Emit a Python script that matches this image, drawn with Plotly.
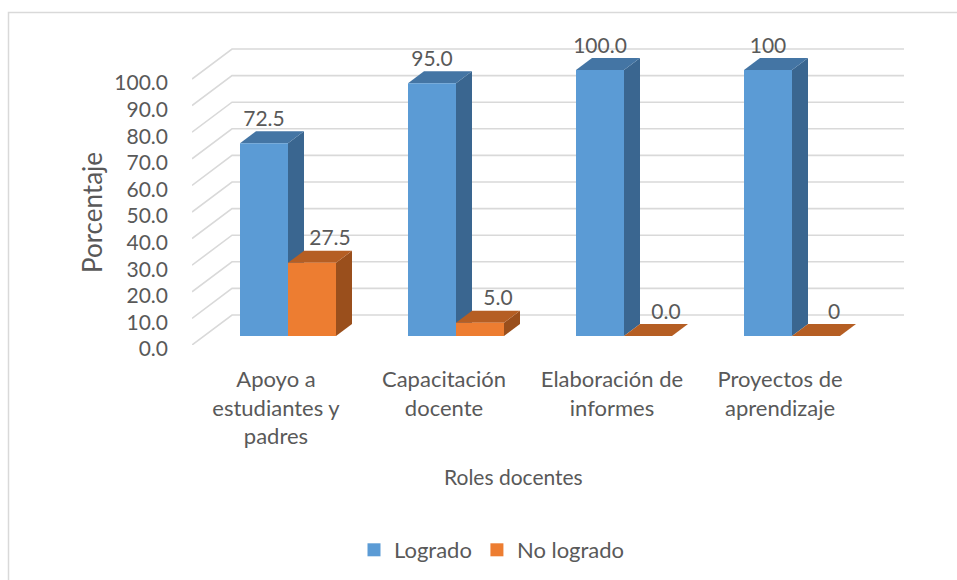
import plotly.graph_objects as go

# ---- data ----
categories = ["Apoyo a<br>estudiantes y<br>padres", "Capacitación<br>docente",
              "Elaboración de<br>informes", "Proyectos de<br>aprendizaje"]
logrado = [72.5, 95.0, 100.0, 100.0]
no_logrado = [27.5, 5.0, 0.0, 0.0]
logrado_labels = ["72.5", "95.0", "100.0", "100"]
no_logrado_labels = ["27.5", "5.0", "0.0", "0"]
y_ticks = [0, 10, 20, 30, 40, 50, 60, 70, 80, 90, 100]
y_ticktext = ["0.0", "10.0", "20.0", "30.0", "40.0", "50.0", "60.0", "70.0", "80.0", "90.0", "100.0"]

# ---- layout geometry (pixels) ----
W, H = 957, 580
ML, MR, MT, MB = 192, 52, 40, 235
PX_X = 168.0          # pixels per category
PX_Y = 2.66           # pixels per percentage point
DX = 40 / PX_X        # full depth offset, x units
DY = 30 / PX_Y        # full depth offset, y units
D0, D1 = 0.3, 0.7     # bar front/back depth fraction
BW = 48 / PX_X        # bar width (category units)

TXT = "#595959"
GRID = "#d9d9d9"
FONT = "Lato"
FS = 21

fig = go.Figure()

# ---- back wall gridlines + slanted side lines ----
gx, gy = [], []
n = len(categories)
for v in y_ticks:
    gx += [0, DX, n + DX, None]
    gy += [v, v + DY, v + DY, None]
fig.add_trace(go.Scatter(x=gx, y=gy, mode="lines", line=dict(color=GRID, width=1.6),
                         hoverinfo="skip", showlegend=False))

def bar_faces(x0, x1, v, front, side, top):
    fx0, fx1 = x0 + D0 * DX, x1 + D0 * DX
    bx0, bx1 = x0 + D1 * DX, x1 + D1 * DX
    fy, by = D0 * DY, D1 * DY
    faces = [
        ([fx1, bx1, bx1, fx1, fx1], [fy, by, v + by, v + fy, fy], side),
        ([fx0, fx1, bx1, bx0, fx0], [v + fy, v + fy, v + by, v + by, v + fy], top),
        ([fx0, fx1, fx1, fx0, fx0], [fy, fy, v + fy, v + fy, fy], front),
    ]
    for xs, ys, c in faces:
        fig.add_trace(go.Scatter(x=xs, y=ys, mode="lines", fill="toself", fillcolor=c,
                                 line=dict(width=0, color=c), hoverinfo="skip",
                                 showlegend=False))

BLUE = ("#5B9BD5", "#3A6690", "#4475A4")
ORANGE = ("#ED7D31", "#9A4F1C", "#B55E23")

for i in range(n):
    c = i + 0.5
    bar_faces(c - BW, c, logrado[i], *BLUE)
    bar_faces(c, c + BW, no_logrado[i], *ORANGE)

# ---- data labels ----
lab_off = 11.9
fig.add_trace(go.Scatter(
    x=[i + 0.5 - BW / 2 + D0 * DX for i in range(n)],
    y=[v + lab_off for v in logrado],
    text=logrado_labels, mode="text", textfont=dict(family=FONT, size=FS, color=TXT),
    cliponaxis=False, hoverinfo="skip", showlegend=False))
fig.add_trace(go.Scatter(
    x=[i + 0.5 + BW / 2 + D0 * DX + 18 / PX_X for i in range(n)],
    y=[v + lab_off for v in no_logrado],
    text=no_logrado_labels, mode="text", textfont=dict(family=FONT, size=FS, color=TXT),
    cliponaxis=False, hoverinfo="skip", showlegend=False))

# ---- legend entries ----
fig.add_trace(go.Scatter(x=[None], y=[None], mode="markers", name="Logrado",
                         marker=dict(symbol="square", size=13, color=BLUE[0])))
fig.add_trace(go.Scatter(x=[None], y=[None], mode="markers", name="No logrado",
                         marker=dict(symbol="square", size=13, color=ORANGE[0])))

plot_w = W - ML - MR
plot_h = H - MT - MB

fig.update_layout(
    width=W, height=H,
    margin=dict(l=ML, r=MR, t=MT, b=MB, pad=0, autoexpand=False),
    paper_bgcolor="white", plot_bgcolor="white",
    font=dict(family=FONT, size=FS, color=TXT),
    xaxis=dict(range=[0, plot_w / PX_X], tickvals=[i + 0.5 for i in range(n)],
               ticktext=categories, showgrid=False, zeroline=False, showline=False,
               ticks="", ticklabelstandoff=19, fixedrange=True,
               tickfont=dict(family=FONT, size=22, color=TXT)),
    yaxis=dict(range=[0, plot_h / PX_Y], tickvals=y_ticks, ticktext=y_ticktext,
               showgrid=False, zeroline=False, showline=False, ticks="",
               ticklabelstandoff=23, ticklabelshift=4, fixedrange=True),
    showlegend=True,
    legend=dict(orientation="h", x=(492 - ML) / plot_w, xanchor="center",
                y=(H - MB - 550) / plot_h, yanchor="middle",
                font=dict(family=FONT, size=22, color=TXT), itemwidth=30,
                bgcolor="rgba(0,0,0,0)"),
    annotations=[
        dict(text="Porcentaje", xref="paper", yref="paper",
             x=(92 - ML) / plot_w, y=(H - MB - 213) / plot_h, textangle=-90,
             showarrow=False, xanchor="center", yanchor="middle",
             font=dict(family=FONT, size=26, color=TXT)),
        dict(text="Roles docentes", xref="paper", yref="paper",
             x=(513 - ML) / plot_w, y=(H - MB - 476) / plot_h,
             showarrow=False, xanchor="center", yanchor="middle",
             font=dict(family=FONT, size=21, color=TXT)),
    ],
    shapes=[dict(type="rect", xref="paper", yref="paper",
                 x0=(8.5 - ML) / plot_w, x1=(W + 10 - ML) / plot_w,
                 y0=(H - MB - (H + 10)) / plot_h, y1=(H - MB - 12.5) / plot_h,
                 line=dict(color=GRID, width=1.5), fillcolor="rgba(0,0,0,0)", layer="below")],
)

fig.write_html("out.html", config={"displayModeBar": False},
               post_script="document.body.style.margin='0';document.body.style.overflow='hidden';")
